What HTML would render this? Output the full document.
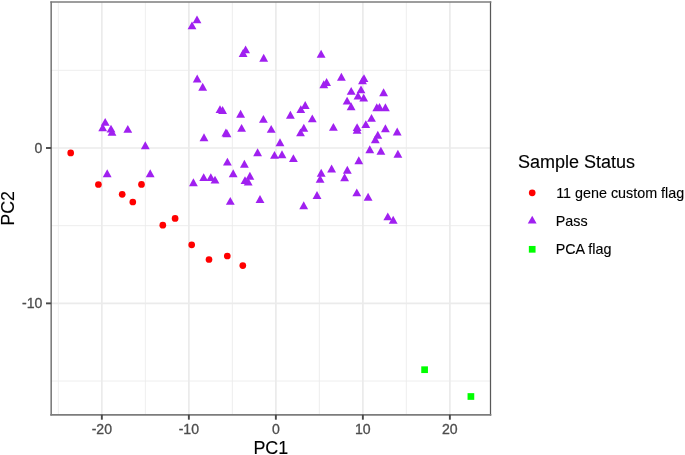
<!DOCTYPE html>
<html lang="en"><head><meta charset="utf-8"><title>PCA plot</title>
<style>html,body{margin:0;padding:0;background:#fff;width:685px;height:455px;overflow:hidden}</style></head>
<body>
<svg width="685" height="455" viewBox="0 0 685 455" style="position:absolute;left:0;top:0">
<rect x="0" y="0" width="685" height="455" fill="#ffffff"/>
<g stroke="#ebebeb" stroke-width="0.87" fill="none">
<line x1="58.34" y1="2.1" x2="58.34" y2="414.7"/>
<line x1="145.34" y1="2.1" x2="145.34" y2="414.7"/>
<line x1="232.35" y1="2.1" x2="232.35" y2="414.7"/>
<line x1="319.35" y1="2.1" x2="319.35" y2="414.7"/>
<line x1="406.36" y1="2.1" x2="406.36" y2="414.7"/>
<line x1="51.1" y1="70.32" x2="490.5" y2="70.32"/>
<line x1="51.1" y1="225.68" x2="490.5" y2="225.68"/>
<line x1="51.1" y1="381.04" x2="490.5" y2="381.04"/>
</g>
<g stroke="#ebebeb" stroke-width="1.74" fill="none">
<line x1="101.84" y1="2.1" x2="101.84" y2="414.7"/>
<line x1="188.85" y1="2.1" x2="188.85" y2="414.7"/>
<line x1="275.85" y1="2.1" x2="275.85" y2="414.7"/>
<line x1="362.86" y1="2.1" x2="362.86" y2="414.7"/>
<line x1="449.86" y1="2.1" x2="449.86" y2="414.7"/>
<line x1="51.1" y1="148.00" x2="490.5" y2="148.00"/>
<line x1="51.1" y1="303.36" x2="490.5" y2="303.36"/>
</g>
<g fill="#ff0000">
<circle cx="70.7" cy="152.9" r="3.35"/>
<circle cx="98.4" cy="184.5" r="3.35"/>
<circle cx="122.2" cy="194.3" r="3.35"/>
<circle cx="132.8" cy="202.0" r="3.35"/>
<circle cx="141.5" cy="184.4" r="3.35"/>
<circle cx="162.8" cy="225.2" r="3.35"/>
<circle cx="175.1" cy="218.4" r="3.35"/>
<circle cx="191.7" cy="244.8" r="3.35"/>
<circle cx="209.0" cy="259.5" r="3.35"/>
<circle cx="227.3" cy="256.0" r="3.35"/>
<circle cx="242.8" cy="265.6" r="3.35"/>
</g>
<g fill="#a020f0">
<polygon points="105.20,117.95 109.62,125.85 100.78,125.85"/>
<polygon points="102.70,123.45 107.12,131.35 98.28,131.35"/>
<polygon points="111.00,124.65 115.42,132.55 106.58,132.55"/>
<polygon points="112.00,127.95 116.42,135.85 107.58,135.85"/>
<polygon points="127.80,124.95 132.22,132.85 123.38,132.85"/>
<polygon points="145.30,141.25 149.72,149.15 140.88,149.15"/>
<polygon points="107.20,169.35 111.62,177.25 102.78,177.25"/>
<polygon points="150.20,169.25 154.62,177.15 145.78,177.15"/>
<polygon points="204.00,133.25 208.42,141.15 199.58,141.15"/>
<polygon points="193.40,178.35 197.82,186.25 188.98,186.25"/>
<polygon points="203.70,173.15 208.12,181.05 199.28,181.05"/>
<polygon points="210.80,173.15 215.22,181.05 206.38,181.05"/>
<polygon points="215.00,175.65 219.42,183.55 210.58,183.55"/>
<polygon points="197.00,15.45 201.42,23.35 192.58,23.35"/>
<polygon points="192.00,21.45 196.42,29.35 187.58,29.35"/>
<polygon points="197.20,74.55 201.62,82.45 192.78,82.45"/>
<polygon points="202.70,82.85 207.12,90.75 198.28,90.75"/>
<polygon points="245.60,45.45 250.02,53.35 241.18,53.35"/>
<polygon points="243.10,49.05 247.52,56.95 238.68,56.95"/>
<polygon points="263.70,53.75 268.12,61.65 259.28,61.65"/>
<polygon points="321.10,49.75 325.52,57.65 316.68,57.65"/>
<polygon points="341.40,72.75 345.82,80.65 336.98,80.65"/>
<polygon points="326.60,78.05 331.02,85.95 322.18,85.95"/>
<polygon points="323.80,80.35 328.22,88.25 319.38,88.25"/>
<polygon points="364.00,74.15 368.42,82.05 359.58,82.05"/>
<polygon points="362.50,76.25 366.92,84.15 358.08,84.15"/>
<polygon points="351.20,86.95 355.62,94.85 346.78,94.85"/>
<polygon points="361.00,85.45 365.42,93.35 356.58,93.35"/>
<polygon points="358.00,91.65 362.42,99.55 353.58,99.55"/>
<polygon points="363.70,93.65 368.12,101.55 359.28,101.55"/>
<polygon points="347.10,96.65 351.52,104.55 342.68,104.55"/>
<polygon points="351.10,102.25 355.52,110.15 346.68,110.15"/>
<polygon points="383.60,88.25 388.02,96.15 379.18,96.15"/>
<polygon points="376.80,103.35 381.22,111.25 372.38,111.25"/>
<polygon points="379.50,103.05 383.92,110.95 375.08,110.95"/>
<polygon points="385.40,103.25 389.82,111.15 380.98,111.15"/>
<polygon points="305.20,101.05 309.62,108.95 300.78,108.95"/>
<polygon points="300.80,105.15 305.22,113.05 296.38,113.05"/>
<polygon points="220.00,105.15 224.42,113.05 215.58,113.05"/>
<polygon points="222.60,106.05 227.02,113.95 218.18,113.95"/>
<polygon points="240.60,109.85 245.02,117.75 236.18,117.75"/>
<polygon points="290.40,110.75 294.82,118.65 285.98,118.65"/>
<polygon points="263.40,114.95 267.82,122.85 258.98,122.85"/>
<polygon points="312.30,114.45 316.72,122.35 307.88,122.35"/>
<polygon points="371.50,113.95 375.92,121.85 367.08,121.85"/>
<polygon points="365.80,120.15 370.22,128.05 361.38,128.05"/>
<polygon points="357.10,123.15 361.52,131.05 352.68,131.05"/>
<polygon points="357.10,125.75 361.52,133.65 352.68,133.65"/>
<polygon points="333.40,122.95 337.82,130.85 328.98,130.85"/>
<polygon points="303.80,123.75 308.22,131.65 299.38,131.65"/>
<polygon points="300.50,128.45 304.92,136.35 296.08,136.35"/>
<polygon points="271.20,124.95 275.62,132.85 266.78,132.85"/>
<polygon points="241.60,123.95 246.02,131.85 237.18,131.85"/>
<polygon points="225.90,128.55 230.32,136.45 221.48,136.45"/>
<polygon points="227.00,129.35 231.42,137.25 222.58,137.25"/>
<polygon points="280.00,138.25 284.42,146.15 275.58,146.15"/>
<polygon points="385.40,124.35 389.82,132.25 380.98,132.25"/>
<polygon points="397.20,127.55 401.62,135.45 392.78,135.45"/>
<polygon points="377.80,130.75 382.22,138.65 373.38,138.65"/>
<polygon points="375.30,135.25 379.72,143.15 370.88,143.15"/>
<polygon points="369.80,145.35 374.22,153.25 365.38,153.25"/>
<polygon points="380.90,146.85 385.32,154.75 376.48,154.75"/>
<polygon points="397.90,149.85 402.32,157.75 393.48,157.75"/>
<polygon points="257.60,148.25 262.02,156.15 253.18,156.15"/>
<polygon points="274.50,150.95 278.92,158.85 270.08,158.85"/>
<polygon points="282.00,150.25 286.42,158.15 277.58,158.15"/>
<polygon points="293.40,154.15 297.82,162.05 288.98,162.05"/>
<polygon points="358.80,156.35 363.22,164.25 354.38,164.25"/>
<polygon points="227.40,157.65 231.82,165.55 222.98,165.55"/>
<polygon points="244.40,159.85 248.82,167.75 239.98,167.75"/>
<polygon points="331.60,164.55 336.02,172.45 327.18,172.45"/>
<polygon points="347.30,165.85 351.72,173.75 342.88,173.75"/>
<polygon points="321.20,168.75 325.62,176.65 316.78,176.65"/>
<polygon points="233.20,169.35 237.62,177.25 228.78,177.25"/>
<polygon points="249.90,171.75 254.32,179.65 245.48,179.65"/>
<polygon points="344.60,173.25 349.02,181.15 340.18,181.15"/>
<polygon points="320.10,174.95 324.52,182.85 315.68,182.85"/>
<polygon points="245.00,176.15 249.42,184.05 240.58,184.05"/>
<polygon points="248.20,177.65 252.62,185.55 243.78,185.55"/>
<polygon points="356.80,188.45 361.22,196.35 352.38,196.35"/>
<polygon points="317.00,191.05 321.42,198.95 312.58,198.95"/>
<polygon points="368.10,192.75 372.52,200.65 363.68,200.65"/>
<polygon points="260.00,195.05 264.42,202.95 255.58,202.95"/>
<polygon points="230.30,196.95 234.72,204.85 225.88,204.85"/>
<polygon points="303.70,201.35 308.12,209.25 299.28,209.25"/>
<polygon points="387.80,212.45 392.22,220.35 383.38,220.35"/>
<polygon points="393.20,215.85 397.62,223.75 388.78,223.75"/>
<polygon points="532.20,215.70 536.62,223.60 527.78,223.60"/>
</g>
<g fill="#00ff00">
<rect x="421.25" y="366.35" width="6.7" height="6.7"/>
<rect x="467.55" y="393.15" width="6.7" height="6.7"/>
<rect x="528.85" y="245.95" width="6.7" height="6.7"/>
</g>
<circle cx="532.2" cy="192.8" r="3.35" fill="#ff0000"/>
<g stroke="#585858" stroke-width="1.25" fill="none" stroke-linecap="square">
<line x1="51.15" y1="2.0" x2="51.15" y2="414.9"/>
<line x1="490.5" y1="2.0" x2="490.5" y2="414.9"/>
<line x1="51.15" y1="2.0" x2="490.5" y2="2.0" stroke="#7c7c7c" stroke-width="1.7"/>
<line x1="51.15" y1="414.9" x2="490.5" y2="414.9" stroke="#7c7c7c" stroke-width="1.7"/>
</g>
<g stroke="#484848" stroke-width="1.9">
<line x1="101.84" y1="414.7" x2="101.84" y2="419.7"/>
<line x1="188.85" y1="414.7" x2="188.85" y2="419.7"/>
<line x1="275.85" y1="414.7" x2="275.85" y2="419.7"/>
<line x1="362.86" y1="414.7" x2="362.86" y2="419.7"/>
<line x1="449.86" y1="414.7" x2="449.86" y2="419.7"/>
<line x1="46.0" y1="148.00" x2="51.1" y2="148.00"/>
<line x1="46.0" y1="303.36" x2="51.1" y2="303.36"/>
</g>
<g font-family="Liberation Sans, Arial, sans-serif" font-size="14.35" fill="#4d4d4d" stroke="#4d4d4d" stroke-width="0.3">
<text transform="translate(101.84,433.9) scale(1,1.03)" font-size="14.1" text-anchor="middle">-20</text>
<text transform="translate(188.85,433.9) scale(1,1.03)" font-size="14.1" text-anchor="middle">-10</text>
<text transform="translate(275.85,433.9) scale(1,1.03)" font-size="14.1" text-anchor="middle">0</text>
<text transform="translate(362.86,433.9) scale(1,1.03)" font-size="14.1" text-anchor="middle">10</text>
<text transform="translate(449.86,433.9) scale(1,1.03)" font-size="14.1" text-anchor="middle">20</text>
<text transform="translate(42.3,152.80) scale(1,1.03)" font-size="14.1" text-anchor="end">0</text>
<text transform="translate(42.3,308.16) scale(1,1.03)" font-size="14.1" text-anchor="end">-10</text>
</g>
<g font-family="Liberation Sans, Arial, sans-serif" fill="#000000" stroke="#000000" stroke-width="0.12">
<text x="270.80" y="453.8" font-size="17.9" text-anchor="middle">PC1</text>
<text transform="translate(13.85,208.40) rotate(-90)" font-size="17.9" text-anchor="middle">PC2</text>
<text x="518.0" y="167.5" font-size="18.0">Sample Status</text>
<text transform="translate(556.2,197.7) scale(1,1.03)" font-size="14.35">11 gene custom flag</text>
<text transform="translate(555.7,226.0) scale(1,1.03)" font-size="14.35">Pass</text>
<text transform="translate(555.7,254.3) scale(1,1.03)" font-size="14.35">PCA flag</text>
</g>
</svg>
</body></html>
